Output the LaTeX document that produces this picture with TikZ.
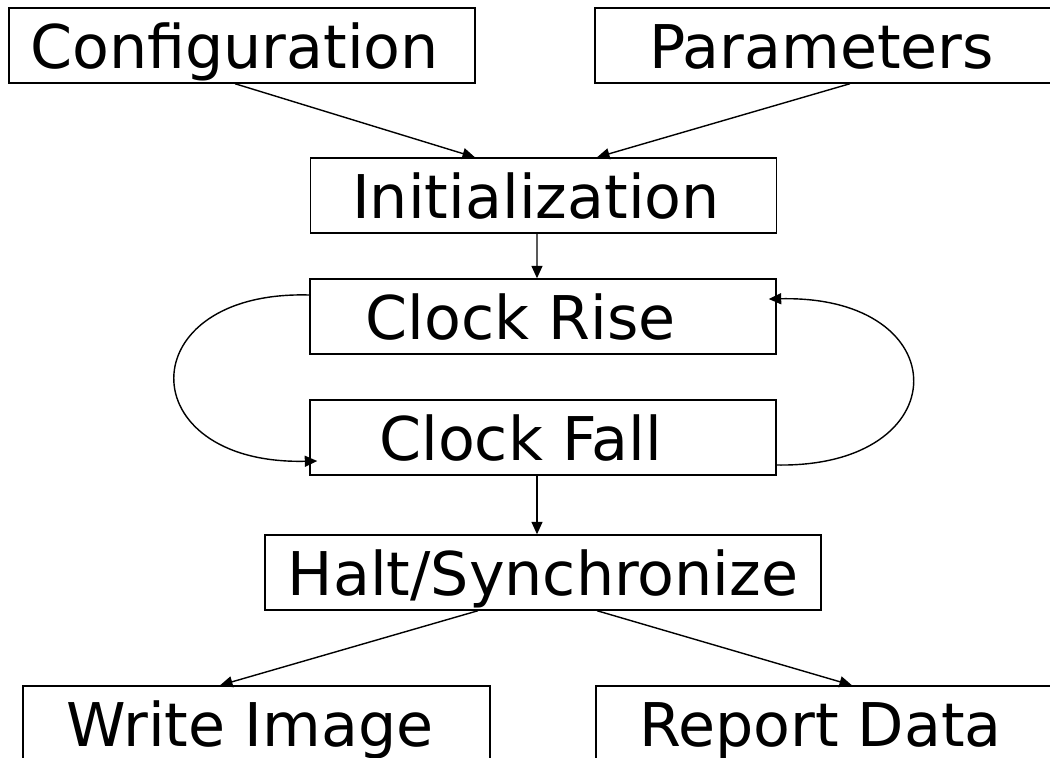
\documentclass[tikz,border=0pt]{standalone}
\usepackage{fontspec}
\setmainfont{DejaVu Sans}
\usetikzlibrary{arrows.meta,calc}

\tikzset{every node/.style={font=\fontsize{34.3pt}{41pt}\selectfont}}
\tikzstyle{stage} = [draw,line width=0.8pt,minimum width=9.32cm,minimum height=1.5cm,text height=1.2cm,text depth=0.3cm,inner sep=0pt]
\tikzstyle{b} = [draw,line width=0.8pt,-{Triangle[length=0.25cm,width=0.22cm]}]

\begin{document}
\begin{tikzpicture}
\useasboundingbox (0,0) rectangle (21,-15.14);
\clip (0,0) rectangle (21,-15.14);
\node [stage] (cfg) at (4.84,-0.91) {Configuration\kern0.3cm};
\node [stage] (par) at (16.56,-0.91) {Parameters\kern0.26cm};
\node [stage] (init) at (10.87,-3.91) {Initialization\kern0.3cm};
\node [stage] (rise) at (10.86,-6.33) {Clock Rise\kern0.9cm};
\node [stage] (fall) at (10.86,-8.75) {Clock Fall\kern0.9cm};
\node [stage,minimum width=11.12cm] (halt) at (10.86,-11.45) {Halt/Synchronize};
\node [stage,minimum width=9.34cm] (img) at (5.13,-14.47) {Write Image\kern0.26cm};
\node [stage] (rep) at (16.58,-14.47) {Report Data\kern0.34cm};
\path [b] ($(cfg.south)+(-0.14,0)$) -- ($(init.north)+(-1.37,0)$);
\path [b] ($(par.south)+(0.44,0)$) -- ($(init.north)+(1.07,0)$);
\path [b] ($(init.south)+(-0.13,0)$) -- ($(rise.north)+(-0.12,0)$);
\path [b] ($(rise.west)+(0,0.43)$) .. controls +(-3.6,0.1) and +(-3.76,-0.08) .. ($(fall.west)+(0.16,-0.47)$);
\path [b] ($(fall.east)+(0,-0.55)$) .. controls +(3.64,-0.06) and +(3.8,0.08) .. ($(rise.east)+(-0.16,0.35)$);
\path [b] ($(fall.south)+(-0.12,0)$) -- ($(halt.north)+(-0.12,0)$);
\path [b] ($(halt.south)+(-1.3,0)$) -- ($(img.north)+(-0.73,0)$);
\path [b] ($(halt.south)+(1.08,0)$) -- ($(rep.north)+(0.46,0)$);
\end{tikzpicture}
\end{document}
